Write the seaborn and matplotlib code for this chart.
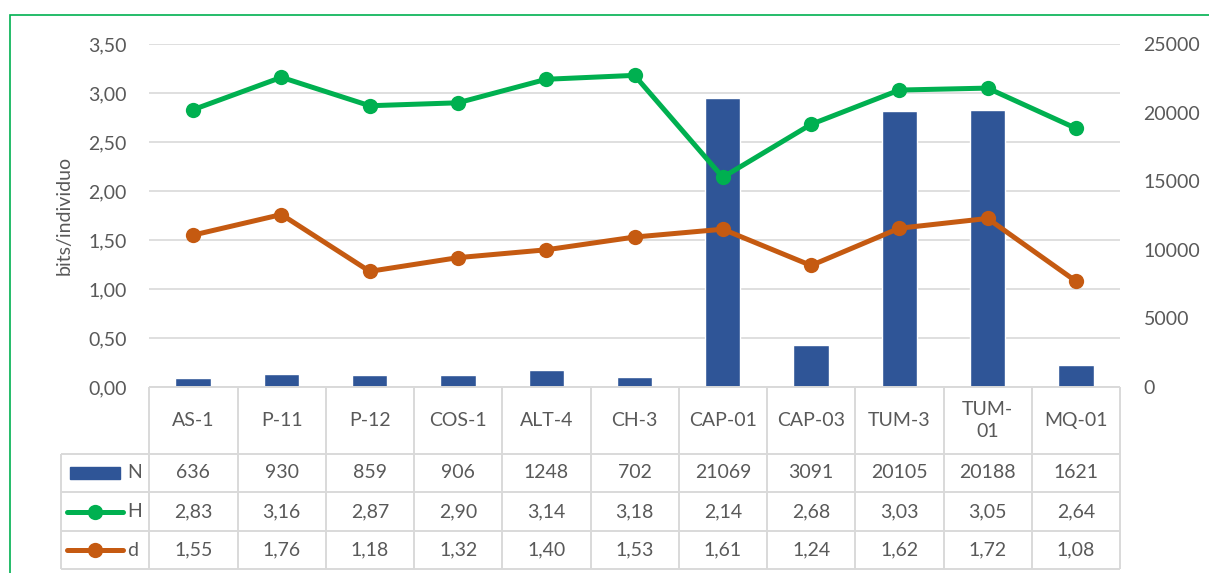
import matplotlib
matplotlib.use("Agg")
import matplotlib.pyplot as plt
from matplotlib.patches import Rectangle
import pandas as pd
import seaborn as sns

# data
categories = ["AS-1", "P-11", "P-12", "COS-1", "ALT-4", "CH-3",
              "CAP-01", "CAP-03", "TUM-3", "TUM-01", "MQ-01"]
n_values = [636, 930, 859, 906, 1248, 702, 21069, 3091, 20105, 20188, 1621]
h_values = [2.83, 3.16, 2.87, 2.90, 3.14, 3.18, 2.14, 2.68, 3.03, 3.05, 2.64]
d_values = [1.55, 1.76, 1.18, 1.32, 1.40, 1.53, 1.61, 1.24, 1.62, 1.72, 1.08]
left_ticks = [0.0, 0.5, 1.0, 1.5, 2.0, 2.5, 3.0, 3.5]
right_ticks = [0, 5000, 10000, 15000, 20000, 25000]

BLUE = "#2F5597"
GREEN = "#00B050"
ORANGE = "#C55A11"
GRID = "#D9D9D9"
TEXT = "#595959"
FS = 14

sns.set_theme(style="white")
plt.rcParams["font.family"] = ["Lato", "DejaVu Sans"]

df = pd.DataFrame({"site": categories, "N": n_values, "H": h_values, "d": d_values})


def comma(v):
    return f"{v:.2f}".replace(".", ",")


W, H = 1209, 573
fig = plt.figure(figsize=(W / 100, H / 100), dpi=100)


def fx(px):
    return px / W


def fy(py):
    return 1 - py / H


# plot area in pixels
pl, pr, pt, pb = 149, 1120, 44, 387
ax = fig.add_axes([fx(pl), fy(pb), (pr - pl) / W, (pb - pt) / H])
ax_bar = ax.twinx()
ax_line = ax.twinx()

sns.barplot(data=df, x="site", y="N", order=categories, ax=ax_bar,
            color=BLUE, saturation=1, width=0.4, errorbar=None)
sns.pointplot(data=df, x="site", y="H", order=categories, ax=ax_line,
              color=GREEN, errorbar=None, linewidth=3.6, markersize=11,
              markeredgewidth=0)
sns.pointplot(data=df, x="site", y="d", order=categories, ax=ax_line,
              color=ORANGE, errorbar=None, linewidth=3.6, markersize=11,
              markeredgewidth=0)

for a in (ax, ax_bar, ax_line):
    a.set_xlim(-0.5, len(categories) - 0.5)
    a.set_xlabel("")
    a.set_ylabel("")
    a.tick_params(axis="x", bottom=False, labelbottom=False)
    for s in a.spines.values():
        s.set_visible(False)

ax.set_ylim(0, 3.5)
ax_line.set_ylim(0, 3.5)
ax_bar.set_ylim(0, 25000)

ax.set_yticks(left_ticks)
ax.set_yticklabels([comma(v) for v in left_ticks])
ax.tick_params(axis="y", length=0, pad=16, labelsize=FS, labelcolor=TEXT, left=False)
ax.grid(True, axis="y", color=GRID, linewidth=1.2)
ax.grid(False, axis="x")

ax_bar.set_yticks(right_ticks)
ax_bar.set_yticklabels([str(v) for v in right_ticks])
ax_bar.tick_params(axis="y", length=0, pad=17, labelsize=FS, labelcolor=TEXT)
ax_line.tick_params(axis="y", right=False, labelright=False)

ax.set_ylabel("bits/individuo", fontsize=FS, color=TEXT)
ax.yaxis.set_label_coords(-0.079, 0.5)

# data table below the plot
tt, tb = 387, 569
tax = fig.add_axes([fx(61), fy(tb), (pr - 61) / W, (tb - tt) / H])
tax.set_xlim(-1.5, len(categories) - 0.5)
tax.set_ylim(tb - tt, 0)
tax.axis("off")
rows = [0, 67, 105, 144, 182]
line_kw = dict(color=GRID, linewidth=1.4, clip_on=False, solid_capstyle="butt")

tax.plot([-0.5, len(categories) - 0.5], [rows[0], rows[0]], **line_kw)
for y in rows[1:]:
    tax.plot([-1.5, len(categories) - 0.5], [y, y], **line_kw)
for i in range(len(categories) + 1):
    tax.plot([i - 0.5, i - 0.5], [rows[0], rows[-1]], **line_kw)
tax.plot([-1.5, -1.5], [rows[1], rows[-1]], **line_kw)

for i, c in enumerate(categories):
    label = c.replace("TUM-", "TUM-\n") if c == "TUM-01" else c
    tax.text(i, (rows[0] + rows[1]) / 2, label, ha="center", va="center",
             fontsize=FS, color=TEXT, linespacing=1.3)
    tax.text(i, (rows[1] + rows[2]) / 2, str(n_values[i]), ha="center", va="center",
             fontsize=FS, color=TEXT)
    tax.text(i, (rows[2] + rows[3]) / 2, comma(h_values[i]), ha="center", va="center",
             fontsize=FS, color=TEXT)
    tax.text(i, (rows[3] + rows[4]) / 2, comma(d_values[i]), ha="center", va="center",
             fontsize=FS, color=TEXT)

# legend keys in the table
key_x0, key_x1, key_txt = -1.398, -0.83, -0.752
yn = (rows[1] + rows[2]) / 2
tax.add_patch(Rectangle((key_x0, yn - 6), key_x1 - key_x0, 12, color=BLUE, clip_on=False))
for y, col, name in [((rows[2] + rows[3]) / 2, GREEN, "H"),
                     ((rows[3] + rows[4]) / 2, ORANGE, "d")]:
    tax.plot([-1.43, -0.80], [y, y], color=col, linewidth=3.6, clip_on=False,
             solid_capstyle="round")
    tax.plot([-1.115], [y], marker="o", color=col, markersize=11,
             markeredgewidth=0, clip_on=False)
for y, name in [(yn, "N"), ((rows[2] + rows[3]) / 2, "H"), ((rows[3] + rows[4]) / 2, "d")]:
    tax.text(key_txt, y, name, ha="left", va="center", fontsize=FS, color=TEXT)

# outer green frame (cropped at right and bottom)
fig.add_artist(Rectangle((fx(10), -0.1), 2, fy(15) + 0.1, transform=fig.transFigure,
                         fill=False, edgecolor=GREEN, linewidth=1.2))

fig.savefig("out.png", dpi=100)
